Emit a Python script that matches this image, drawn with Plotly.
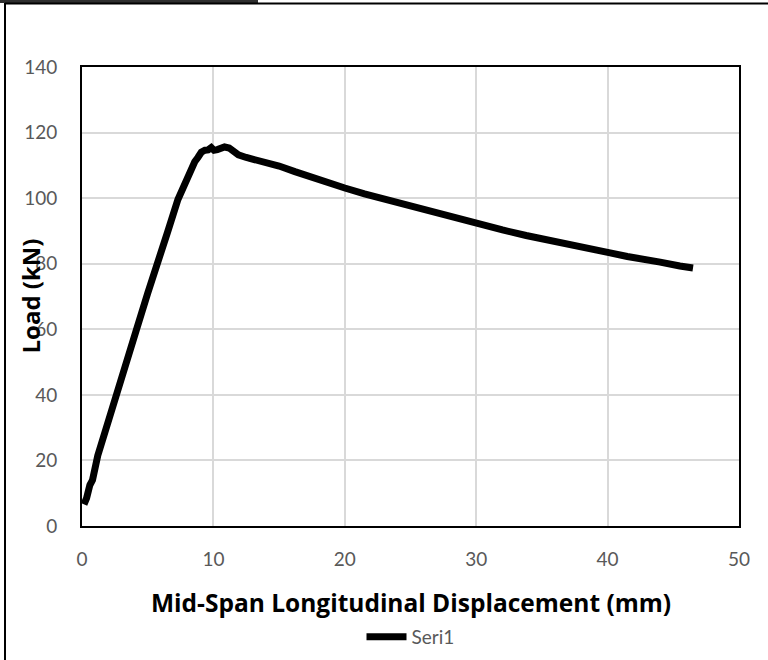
import plotly.graph_objects as go

# load-displacement curve
disp_mm = [0.15, 0.35, 0.6, 0.8, 1.2, 2.0, 2.74, 3.4, 4.13, 5.0, 5.78, 6.5, 7.3, 8.0, 8.58, 8.82, 9.08,
           9.36, 9.6, 9.84, 10.05, 10.3, 10.6, 10.85, 11.2, 11.5, 11.9, 12.5, 13.2, 13.98, 15.0, 16.2,
           17.2, 18.3, 20.0, 21.5, 22.7, 24.0, 25.4, 27.5, 30.0, 32.0, 33.8, 36.0, 38.0, 40.1, 41.5,
           42.2, 44.0, 45.5, 46.5]
load_kn = [6.6, 8.5, 12.5, 14.0, 21.5, 31.5, 40.8, 50.0, 59.7, 71.0, 80.0, 89.5, 99.6, 106.5, 111.1,
           112.4, 114.0, 114.6, 114.7, 115.4, 114.6, 114.8, 115.4, 115.6, 115.3, 114.5, 113.2, 112.4,
           111.8, 110.8, 109.8, 108.1, 106.7, 105.2, 103.1, 101.3, 100.0, 98.5, 97.0, 94.8, 92.4,
           90.3, 88.6, 86.6, 85.0, 83.4, 82.2, 81.8, 80.5, 79.3, 78.7]

x_ticks = [0, 10, 20, 30, 40, 50]
y_ticks = [0, 20, 40, 60, 80, 100, 120, 140]

FONT = "Lato"
TITLE_FONT = "Open Sans"
W, H = 768, 660
L, R, T, B = 82, 29, 67, 134
pw, ph = W - L - R, H - T - B


def px_x(px):
    return (px - L) / pw


def px_y(py):
    return (H - B - py) / ph


fig = go.Figure()
fig.add_trace(go.Scatter(
    x=disp_mm, y=load_kn, mode="lines", name="Seri1",
    line=dict(color="black", width=7),
))

fig.update_layout(
    width=W, height=H,
    margin=dict(l=L, r=R, t=T, b=B, autoexpand=False),
    paper_bgcolor="white", plot_bgcolor="white",
    font=dict(family=FONT, color="#595959", size=19),
    showlegend=True,
    legend=dict(orientation="h", x=0.5, xanchor="center", y=px_y(637), yanchor="middle",
                font=dict(family=FONT, size=19, color="#595959"), itemwidth=40,
                bgcolor="rgba(0,0,0,0)"),
    xaxis=dict(range=[0, 50], tickvals=x_ticks, showgrid=True, gridcolor="#d9d9d9", gridwidth=1.5,
               zeroline=False, showline=True, linecolor="black", linewidth=2, mirror=True,
               ticks="outside", ticklen=15, tickcolor="rgba(0,0,0,0)"),
    yaxis=dict(range=[0, 140], tickvals=y_ticks, showgrid=True, gridcolor="#d9d9d9", gridwidth=1.5,
               zeroline=False, showline=True, linecolor="black", linewidth=2, mirror=True,
               ticks="outside", ticklen=19, tickcolor="rgba(0,0,0,0)"),
    annotations=[
        dict(text="<b>Mid-Span Longitudinal Displacement (mm)</b>", xref="paper", yref="paper",
             x=0.5, y=px_y(602), xanchor="center", yanchor="middle", showarrow=False,
             font=dict(family=TITLE_FONT, size=24.5, color="black")),
        dict(text="<b>Load (kN)</b>", xref="paper", yref="paper", textangle=-90,
             x=px_x(30), y=0.5, xanchor="center", yanchor="middle", showarrow=False,
             font=dict(family=TITLE_FONT, size=24, color="black")),
    ],
    shapes=[
        dict(type="rect", xref="paper", yref="paper", x0=px_x(0), x1=px_x(258), y0=px_y(3), y1=px_y(0),
             fillcolor="#2f2f2f", line=dict(width=0)),
        dict(type="line", xref="paper", yref="paper", x0=px_x(5), x1=px_x(768), y0=px_y(3.5), y1=px_y(3.5),
             line=dict(color="black", width=2)),
        dict(type="line", xref="paper", yref="paper", x0=px_x(5), x1=px_x(5), y0=px_y(3), y1=px_y(660),
             line=dict(color="black", width=2)),
    ],
)

fig.write_html("out.html", config={"displayModeBar": False},
               post_script="document.body.style.margin='0';")
